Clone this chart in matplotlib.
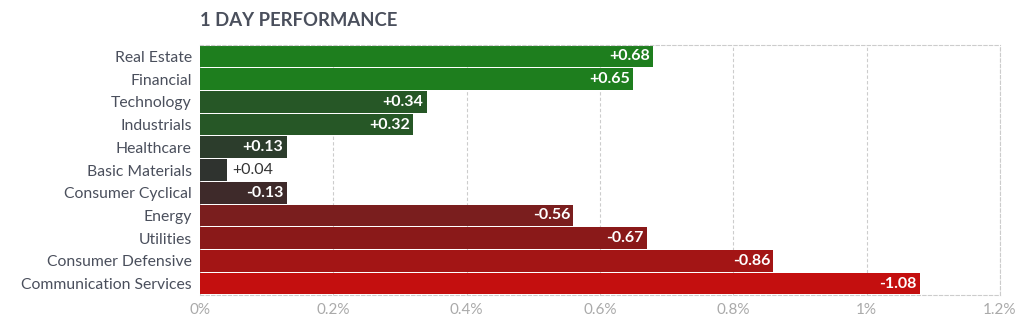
import matplotlib.pyplot as plt
from matplotlib.ticker import FuncFormatter

sectors = ["Real Estate", "Financial", "Technology", "Industrials", "Healthcare",
           "Basic Materials", "Consumer Cyclical", "Energy", "Utilities",
           "Consumer Defensive", "Communication Services"]
changes = [0.68, 0.65, 0.34, 0.32, 0.13, 0.04, -0.13, -0.56, -0.67, -0.86, -1.08]
colors = ["#1e7e1e", "#1e7e1e", "#265726", "#265726", "#2c3d2c", "#2f332f",
          "#3e2a2a", "#7a1e1e", "#8a1919", "#a31515", "#c40f0f"]
xticks = [0, 0.2, 0.4, 0.6, 0.8, 1.0, 1.2]

plt.rcParams['font.family'] = ['Lato', 'DejaVu Sans']

fig = plt.figure(figsize=(10.26, 3.24), dpi=100)
ax = fig.add_axes([200 / 1026, 1 - 295 / 324, 800 / 1026, 250 / 324])

y = list(range(len(sectors)))
widths = [abs(v) for v in changes]
ax.barh(y, widths, height=0.95, color=colors, zorder=2)

for yi, v, w in zip(y, changes, widths):
    txt = f"{v:+.2f}"
    if w >= 0.1:
        ax.text(w - 0.005, yi, txt, ha="right", va="center", color="white",
                fontsize=11.5, fontweight="bold", zorder=3)
    else:
        ax.text(w + 0.008, yi, txt, ha="left", va="center", color="#333333",
                fontsize=11.5, zorder=3)

ax.set_ylim(len(sectors) - 0.5, -0.5)
ax.set_xlim(0, 1.2)
ax.set_yticks(y)
ax.set_yticklabels(sectors, fontsize=11.3, color="#4a4f5c")
ax.set_xticks(xticks)
ax.xaxis.set_major_formatter(FuncFormatter(lambda x, p: f"{x:g}%"))
ax.tick_params(axis="x", colors="#aaaaaa", labelsize=11, length=0, pad=6)
ax.tick_params(axis="y", length=0, pad=6)

ax.grid(axis="x", color="#cccccc", linestyle=(0, (3, 2)), linewidth=0.8, zorder=1)
for side in ["top", "bottom", "right"]:
    ax.spines[side].set_color("#cccccc")
    ax.spines[side].set_linestyle((0, (3, 2)))
    ax.spines[side].set_linewidth(0.8)
ax.spines["left"].set_visible(False)

fig.text(200 / 1026, 1 - 20 / 324, "1 DAY PERFORMANCE", fontsize=13.3,
         fontweight="bold", color="#4a4f5c", va="center", ha="left")

fig.savefig("out.png", dpi=100)
